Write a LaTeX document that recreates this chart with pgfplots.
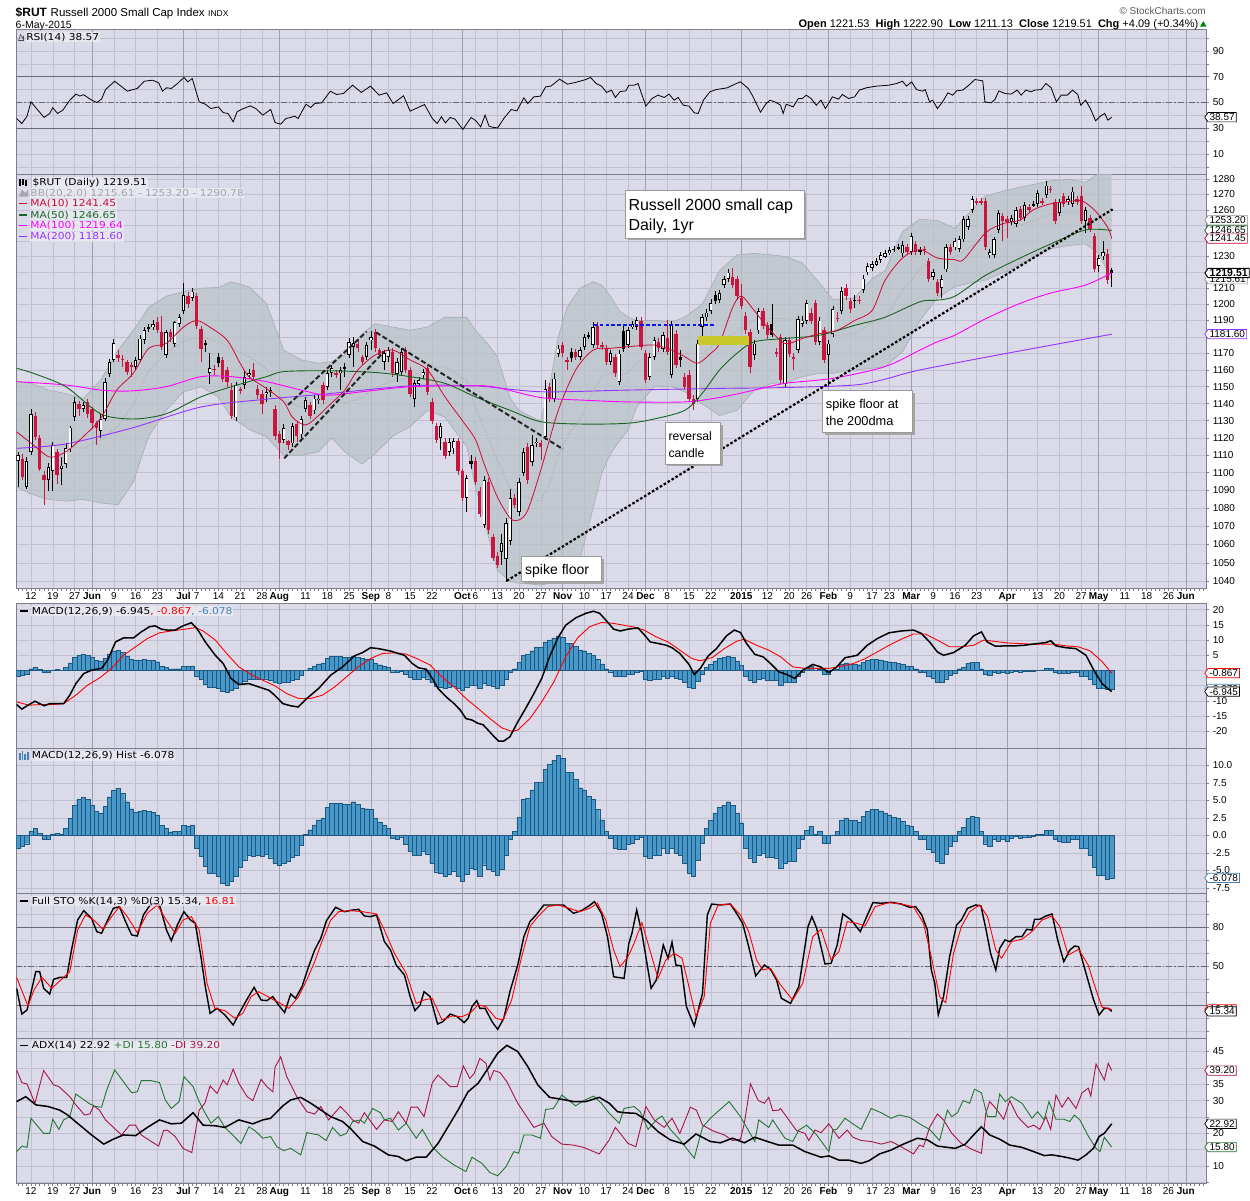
\documentclass[border=0pt]{standalone}
\usepackage{fontspec}
\setmainfont{Liberation Sans}
\newfontfamily\vfont[FakeStretch=1.12]{DejaVu Sans}
\usepackage{pgfplots}
\usepackage{pgfplotstable}
\pgfplotsset{compat=1.18}
\usetikzlibrary{shapes.symbols}

\definecolor{bgc}{RGB}{218,218,232}
\definecolor{gridc}{RGB}{192,192,208}
\definecolor{monthc}{RGB}{158,158,176}
\definecolor{framec}{RGB}{125,125,140}
\definecolor{candred}{RGB}{200,22,62}
\definecolor{ma10c}{RGB}{205,10,55}
\definecolor{ma50c}{RGB}{25,100,35}
\definecolor{ma100c}{RGB}{255,0,255}
\definecolor{ma200c}{RGB}{150,50,255}
\definecolor{bbfill}{RGB}{186,194,198}
\definecolor{bbline}{RGB}{165,172,178}
\definecolor{histc}{RGB}{72,152,202}
\definecolor{histd}{RGB}{28,88,128}
\definecolor{refc}{RGB}{105,105,118}
\definecolor{dipc}{RGB}{34,118,50}
\definecolor{dimc}{RGB}{168,20,70}
\definecolor{steelc}{RGB}{70,130,180}
\definecolor{olivec}{RGB}{200,200,45}
\definecolor{bbtext}{RGB}{165,165,175}
\definecolor{trendblue}{RGB}{10,20,245}

% ---------------- candles: i open high low close ----------------
\pgfplotstableread{
i o h l c
1 1107 1112 1092 1110
3 1092 1109 1091 1107
4 1112 1137 1110 1134
8 1096 1106 1090 1103
9 1101 1118 1090 1116
11 1102 1109 1093 1104
12 1105 1117 1103 1114
13 1114 1127 1112 1126
14 1132 1144 1130 1141
16 1137 1141 1135 1139
20 1124 1134 1120 1131
21 1131 1155 1130 1153
22 1158 1167 1156 1165
23 1166 1179 1165 1176
28 1162 1168 1160 1166
29 1166 1181 1165 1179
30 1178 1186 1176 1184
32 1186 1190 1184 1188
35 1169 1184 1167 1183
37 1176 1190 1174 1189
38 1188 1194 1186 1192
39 1196 1213 1194 1206
41 1204 1210 1202 1208
45 1158 1170 1152 1161
51 1132 1153 1130 1151
53 1151 1160 1149 1156
54 1157 1161 1155 1158
58 1146 1150 1141 1147
59 1147 1150 1144 1148
62 1119 1128 1117 1126
64 1117 1129 1115 1127
66 1122 1133 1120 1131
67 1137 1144 1135 1142
69 1136 1145 1134 1143
70 1142 1146 1140 1143
72 1150 1160 1148 1158
73 1158 1163 1156 1161
75 1158 1162 1148 1160
77 1169 1179 1167 1177
78 1174 1180 1162 1176
81 1168 1177 1166 1175
82 1178 1184 1172 1180
85 1165 1172 1160 1170
86 1168 1174 1165 1172
88 1158 1167 1153 1165
89 1159 1173 1157 1171
92 1143 1154 1138 1152
93 1152 1156 1150 1154
94 1157 1161 1155 1159
98 1120 1129 1113 1127
100 1112 1120 1110 1118
101 1114 1120 1111 1118
104 1086 1099 1078 1097
108 1071 1098 1069 1096
112 1056 1066 1049 1061
113 1052 1075 1040 1072
114 1062 1091 1060 1086
116 1078 1097 1076 1095
117 1100 1114 1098 1112
119 1106 1122 1104 1116
120 1117 1120 1115 1118
122 1121 1154 1119 1149
124 1143 1158 1141 1155
125 1170 1175 1168 1173
130 1168 1174 1166 1172
131 1174 1182 1172 1180
132 1180 1183 1179 1181
133 1175 1189 1173 1186
137 1165 1172 1163 1170
139 1153 1172 1151 1170
141 1175 1186 1173 1184
142 1186 1190 1185 1188
143 1186 1192 1184 1190
146 1156 1170 1154 1168
147 1168 1180 1166 1178
149 1173 1183 1171 1181
151 1157 1190 1155 1188
157 1143 1178 1141 1176
158 1186 1194 1178 1192
159 1192 1197 1190 1195
160 1196 1203 1194 1201
162 1203 1209 1201 1207
163 1212 1218 1210 1216
164 1216 1222 1214 1220
170 1169 1178 1166 1176
171 1184 1198 1182 1196
177 1152 1180 1150 1178
180 1172 1193 1170 1191
181 1188 1193 1186 1190
182 1190 1203 1188 1201
185 1177 1192 1175 1190
187 1169 1178 1150 1176
188 1182 1199 1180 1197
190 1196 1211 1194 1208
193 1202 1206 1198 1203
195 1209 1218 1207 1216
196 1220 1226 1218 1224
197 1223 1227 1221 1225
198 1225 1229 1224 1227
199 1228 1233 1226 1231
200 1230 1234 1229 1232
201 1232 1236 1231 1234
202 1234 1237 1233 1235
203 1235 1238 1234 1236
204 1232 1240 1230 1237
206 1233 1245 1231 1243
208 1233 1236 1231 1234
211 1217 1222 1215 1220
213 1210 1218 1204 1216
214 1222 1238 1220 1236
216 1236 1242 1234 1240
217 1235 1243 1233 1241
218 1241 1256 1239 1254
219 1249 1256 1247 1254
220 1260 1269 1258 1267
224 1231 1235 1229 1233
225 1231 1243 1229 1241
226 1247 1260 1245 1258
229 1252 1257 1250 1255
230 1251 1262 1249 1260
232 1255 1265 1253 1263
234 1263 1266 1262 1264
235 1264 1273 1262 1271
237 1270 1279 1268 1276
240 1258 1267 1256 1265
242 1265 1269 1263 1267
243 1264 1275 1262 1272
246 1253 1262 1245 1260
249 1224 1231 1220 1229
250 1230 1240 1228 1233
}\upc

\pgfplotstableread{
i o h l c
31 1186 1188 1183 1185
44 1176 1178 1171 1175
47 1168 1170 1162 1164
76 1162 1164 1156 1161
105 1107 1110 1102 1105
128 1171 1173 1165 1167
140 1184 1188 1171 1173
153 1168 1172 1162 1166
161 1206 1208 1200 1202
174 1188 1200 1180 1181
252 1221.53 1222.90 1211.13 1219.51
}\blkc

\pgfplotstableread{
i o h l c
2 1108 1111 1096 1098
5 1133 1135 1119 1121
6 1120 1122 1101 1102
7 1099 1101 1082 1096
10 1112 1114 1094 1099
15 1140 1142 1133 1137
17 1141 1143 1132 1134
18 1137 1138 1125 1129
19 1129 1130 1116 1126
24 1169 1172 1165 1167
25 1167 1169 1162 1166
26 1165 1166 1157 1159
27 1163 1165 1156 1162
33 1189 1192 1182 1184
34 1183 1193 1172 1174
36 1183 1185 1177 1180
40 1205 1208 1198 1200
42 1205 1207 1185 1187
43 1185 1187 1165 1173
46 1161 1163 1157 1160
48 1166 1168 1153 1155
49 1160 1162 1150 1153
50 1148 1152 1131 1133
52 1149 1150 1146 1148
55 1160 1164 1154 1156
56 1149 1151 1143 1145
57 1146 1148 1134 1140
60 1137 1139 1119 1121
61 1122 1124 1108 1117
63 1118 1119 1113 1116
65 1128 1130 1118 1121
68 1139 1141 1131 1133
71 1151 1153 1140 1142
74 1158 1160 1155 1157
79 1176 1178 1171 1173
80 1168 1169 1163 1165
83 1183 1185 1171 1173
84 1172 1173 1167 1169
87 1171 1173 1156 1158
90 1172 1174 1158 1160
91 1160 1162 1144 1146
95 1161 1163 1145 1147
96 1141 1143 1128 1130
97 1127 1129 1117 1119
99 1118 1120 1108 1110
102 1118 1120 1099 1101
103 1101 1102 1084 1086
106 1107 1109 1093 1095
107 1090 1092 1075 1077
109 1095 1097 1066 1068
110 1064 1066 1051 1053
111 1054 1056 1047 1049
115 1086 1088 1080 1082
118 1115 1117 1094 1096
121 1117 1119 1107 1115
123 1150 1152 1141 1143
126 1175 1177 1168 1170
127 1166 1168 1160 1165
129 1171 1173 1166 1168
134 1187 1189 1173 1175
135 1175 1177 1172 1174
136 1173 1175 1163 1165
138 1168 1170 1156 1158
144 1190 1192 1172 1174
145 1170 1172 1152 1154
148 1177 1179 1171 1173
150 1179 1190 1169 1171
152 1182 1184 1161 1163
154 1156 1158 1148 1150
155 1157 1160 1141 1143
156 1143 1145 1136 1140
165 1217 1223 1210 1212
166 1216 1218 1203 1205
167 1204 1213 1197 1199
168 1193 1195 1182 1184
169 1183 1185 1158 1162
172 1196 1198 1185 1187
173 1187 1189 1179 1181
175 1171 1173 1168 1170
176 1180 1182 1152 1154
178 1178 1180 1168 1170
179 1168 1170 1160 1167
183 1195 1198 1188 1190
184 1201 1203 1175 1177
186 1184 1186 1164 1166
189 1192 1195 1189 1191
191 1210 1213 1203 1205
192 1202 1204 1195 1197
194 1203 1205 1200 1202
205 1236 1238 1231 1233
207 1238 1240 1231 1233
209 1235 1237 1231 1234
210 1227 1229 1214 1216
212 1214 1216 1205 1207
215 1236 1238 1231 1233
221 1266 1268 1263 1265
222 1266 1268 1263 1265
223 1266 1268 1234 1236
227 1256 1258 1240 1253
228 1254 1256 1242 1252
231 1261 1263 1253 1255
233 1262 1264 1258 1260
236 1266 1268 1263 1265
238 1274 1276 1271 1273
239 1265 1267 1251 1253
241 1269 1271 1262 1264
244 1267 1269 1263 1265
245 1269 1276 1251 1253
247 1255 1257 1246 1248
248 1243 1245 1220 1222
251 1232 1235 1213 1215.5
}\dnc

% ---------------- Bollinger bands: i upper lower ----------------
\pgfplotstableread{
i u l
0.7 1153 1092
4 1152 1088
8 1148 1085
12 1146 1084
16 1143 1085
20 1154 1083
24 1172 1082
27.5 1184 1095
31 1198 1121
35 1205 1136
39 1208 1147
43 1210 1150
47 1210.5 1144
50 1214 1132
54 1211 1125
58 1200.6 1120.7
62 1172 1110
66 1166 1110
70 1164 1112
73 1165 1120
76 1169 1112
80 1182 1105
83 1188 1111
87 1186 1121
91 1184 1126.5
95 1186 1136
99 1192 1132
104 1192 1115
106 1184 1092
109 1175 1064
111 1168 1046
114 1143 1040
116 1136 1039
119 1132 1038.5
121 1130 1038
123 1150 1039
125 1180 1040
127 1198 1043
130 1210 1052
133 1214 1080
135 1212 1100
137 1205 1111
139 1196 1118
141 1192 1124.6
143 1190 1138
147 1190 1150
151 1189 1150
154 1192 1147
158 1200 1140
162 1221 1133
166 1231 1136
170 1232 1148
174 1231 1152
177 1230 1152
181 1226 1156
185 1213 1158
188 1203 1158
193 1204 1160
197 1216 1161
200 1221 1162
204 1246 1171
208 1254 1190
212 1253 1204
216 1248 1211
219 1257 1213
223 1269 1215
228 1273 1221
233 1276 1228
238 1279 1235
242 1280 1237
246 1278 1238
249 1284 1232
252 1290.78 1215.61
}\bbdata

% same band as one closed outline: upper edge forward, lower edge backward
\pgfplotstableread[row sep=\\]{i v\\ 0.7 1153\\ 4 1152\\ 8 1148\\ 12 1146\\ 16 1143\\ 20 1154\\ 24 1172\\ 27.5 1184\\ 31 1198\\ 35 1205\\ 39 1208\\ 43 1210\\ 47 1210.5\\ 50 1214\\ 54 1211\\ 58 1200.6\\ 62 1172\\ 66 1166\\ 70 1164\\ 73 1165\\ 76 1169\\ 80 1182\\ 83 1188\\ 87 1186\\ 91 1184\\ 95 1186\\ 99 1192\\ 104 1192\\ 106 1184\\ 109 1175\\ 111 1168\\ 114 1143\\ 116 1136\\ 119 1132\\ 121 1130\\ 123 1150\\ 125 1180\\ 127 1198\\ 130 1210\\ 133 1214\\ 135 1212\\ 137 1205\\ 139 1196\\ 141 1192\\ 143 1190\\ 147 1190\\ 151 1189\\ 154 1192\\ 158 1200\\ 162 1221\\ 166 1231\\ 170 1232\\ 174 1231\\ 177 1230\\ 181 1226\\ 185 1213\\ 188 1203\\ 193 1204\\ 197 1216\\ 200 1221\\ 204 1246\\ 208 1254\\ 212 1253\\ 216 1248\\ 219 1257\\ 223 1269\\ 228 1273\\ 233 1276\\ 238 1279\\ 242 1280\\ 246 1278\\ 249 1284\\ 252 1290.78\\ 252 1215.61\\ 249 1232\\ 246 1238\\ 242 1237\\ 238 1235\\ 233 1228\\ 228 1221\\ 223 1215\\ 219 1213\\ 216 1211\\ 212 1204\\ 208 1190\\ 204 1171\\ 200 1162\\ 197 1161\\ 193 1160\\ 188 1158\\ 185 1158\\ 181 1156\\ 177 1152\\ 174 1152\\ 170 1148\\ 166 1136\\ 162 1133\\ 158 1140\\ 154 1147\\ 151 1150\\ 147 1150\\ 143 1138\\ 141 1124.6\\ 139 1118\\ 137 1111\\ 135 1100\\ 133 1080\\ 130 1052\\ 127 1043\\ 125 1040\\ 123 1039\\ 121 1038\\ 119 1038.5\\ 116 1039\\ 114 1040\\ 111 1046\\ 109 1064\\ 106 1092\\ 104 1115\\ 99 1132\\ 95 1136\\ 91 1126.5\\ 87 1121\\ 83 1111\\ 80 1105\\ 76 1112\\ 73 1120\\ 70 1112\\ 66 1110\\ 62 1110\\ 58 1120.7\\ 54 1125\\ 50 1132\\ 47 1144\\ 43 1150\\ 39 1147\\ 35 1136\\ 31 1121\\ 27.5 1095\\ 24 1082\\ 20 1083\\ 16 1085\\ 12 1084\\ 8 1085\\ 4 1088\\ 0.7 1092\\}\bbpoly

% ---------------- moving averages: i value ----------------
\pgfplotstableread[row sep=\\]{i v\\ 0.7 1114\\ 12 1116.5\\ 27 1125.6\\ 43 1138\\ 58 1142.6\\ 72 1145.8\\ 91 1150.5\\ 106 1150.5\\ 121 1147\\ 141 1148\\ 162 1149\\ 177 1149.5\\ 193 1151\\ 200 1154.5\\ 208 1160\\ 230 1171\\ 252 1181.6\\}\matwo

\pgfplotstableread[row sep=\\]{i v\\ 0.7 1153\\ 12 1151\\ 20 1148\\ 27 1147.5\\ 35 1150\\ 43 1156\\ 50 1156\\ 58 1153\\ 66 1148\\ 72 1145\\ 80 1147\\ 91 1150\\ 104 1150.5\\ 110 1150\\ 121 1143.6\\ 131 1142\\ 141 1141\\ 154 1141\\ 162 1143.6\\ 170 1148\\ 177 1152\\ 188 1155\\ 200 1162\\ 208 1172\\ 212 1177\\ 216 1181\\ 223 1191\\ 231 1200.6\\ 238 1207\\ 246 1212\\ 252 1219.64\\}\maone

\pgfplotstableread[row sep=\\]{i v\\ 0.7 1161\\ 4.5 1158\\ 12 1150\\ 20 1134\\ 27.5 1131\\ 35 1134\\ 43 1144\\ 50 1150\\ 58 1156\\ 62 1159\\ 72 1159.5\\ 83 1158.5\\ 91 1156\\ 99 1152\\ 106 1144\\ 114 1136\\ 121 1129.4\\ 131 1128\\ 141 1128.5\\ 147 1131\\ 154 1136\\ 158 1146\\ 162 1160\\ 166 1170\\ 170 1177\\ 177 1179\\ 185 1181\\ 193 1187\\ 200 1192\\ 208 1201.6\\ 212 1202.6\\ 216 1205\\ 223 1218\\ 231 1229\\ 238 1238\\ 246 1247\\ 252 1246.65\\}\mafifty

\pgfplotstableread[row sep=\\]{i v\\ 0.7 1123.5\\ 4.5 1116\\ 8.3 1109\\ 12 1112\\ 16 1120.7\\ 20 1131.4\\ 23.7 1148\\ 27.5 1158\\ 31 1173\\ 35 1176\\ 39 1186\\ 42 1190\\ 45 1186\\ 49 1178\\ 52 1164\\ 54 1156\\ 58 1149\\ 62 1141\\ 64 1132\\ 67 1127.5\\ 70 1133\\ 72 1138\\ 76 1148\\ 79 1160\\ 83 1169\\ 87 1172\\ 91 1166\\ 95 1160\\ 99 1144\\ 103 1130\\ 106 1119\\ 108 1105\\ 111 1086.5\\ 114 1074.4\\ 116 1073.5\\ 118 1079\\ 121 1101.6\\ 125 1136\\ 129 1160\\ 133 1172\\ 137 1173\\ 141 1174\\ 147 1175\\ 151 1172\\ 154 1168\\ 157 1164\\ 160 1170\\ 162 1176\\ 165 1198\\ 167 1205\\ 170 1196\\ 173 1186\\ 177 1176\\ 181 1179\\ 185 1182\\ 189 1184\\ 193 1190\\ 197 1196\\ 200 1215\\ 204 1229\\ 208 1234.4\\ 212 1229\\ 216 1228\\ 218 1228\\ 223 1245\\ 227 1251\\ 231 1253.4\\ 234 1260\\ 238 1264\\ 242 1265.3\\ 245 1266\\ 248 1260\\ 251 1249\\ 252 1241.45\\}\maten

% ---------------- MACD histogram ----------------
\pgfplotstableread{
i v
1 -1.9
2 -1.6
3 -1.2
4 0.6
5 1.0
6 0.3
7 -0.5
8 -0.5
9 0.2
10 0.3
11 0.2
12 1.0
13 2.5
14 4.3
15 5.1
16 5.4
17 5.1
18 4.3
19 3.4
20 3.2
21 4.1
22 5.5
23 6.4
24 6.7
25 6.0
26 4.8
27 3.8
28 3.3
29 3.5
30 3.6
31 3.4
32 3.3
33 2.9
34 1.4
35 1.0
36 0.5
37 0.6
38 0.6
39 1.4
40 1.3
41 1.5
42 -1.8
43 -3.0
44 -4.4
45 -5.4
46 -5.4
47 -5.9
48 -6.8
49 -7.1
50 -6.6
51 -5.9
52 -4.6
53 -3.5
54 -2.9
55 -3.0
56 -2.9
57 -3.0
58 -2.7
59 -3.2
60 -4.0
61 -4.3
62 -4.0
63 -3.7
64 -3.1
65 -2.8
66 -1.4
67 0.1
68 0.8
69 1.5
70 2.2
71 2.5
72 4.0
73 4.6
74 4.6
75 4.6
76 4.4
77 4.4
78 4.8
79 4.4
80 3.9
81 3.8
82 3.7
83 2.5
84 1.9
85 1.4
86 1.0
87 -0.4
88 -0.5
89 -0.2
90 -1.3
91 -2.3
92 -2.9
93 -2.9
94 -2.3
95 -2.7
96 -4.0
97 -5.2
98 -5.4
99 -5.9
100 -5.6
101 -5.1
102 -5.9
103 -6.6
104 -5.5
105 -4.7
106 -4.9
107 -5.9
108 -4.2
109 -4.8
110 -5.1
111 -5.7
112 -4.8
113 -2.9
114 -0.6
115 0.6
116 2.6
117 5.1
118 5.3
119 6.5
120 7.6
121 7.6
122 9.4
123 10.1
124 10.7
125 11.4
126 11.0
127 9.0
128 9.0
129 8.0
130 6.8
131 6.5
132 5.6
133 5.1
134 3.7
135 2.2
136 0.6
137 -0.4
138 -1.9
139 -2.0
140 -2.0
141 -1.3
142 -1.1
143 -0.5
144 -0.3
145 -3.0
146 -3.2
147 -2.8
148 -2.8
149 -1.9
150 -2.5
151 -1.8
152 -2.5
153 -2.9
154 -4.0
155 -5.4
156 -5.9
157 -3.6
158 -1.1
159 1.0
160 2.1
161 3.2
162 4.0
163 4.3
164 4.8
165 4.3
166 3.2
167 1.8
168 -1.8
169 -3.2
170 -3.8
171 -2.8
172 -2.6
173 -3.1
174 -3.1
175 -3.2
176 -4.7
177 -4.0
178 -3.7
179 -3.7
180 -1.8
181 -0.6
182 0.7
183 1.3
184 0.1
185 0.6
186 -1.1
187 -1.1
188 0.05
189 0.6
190 2.1
191 2.5
192 2.1
193 2.1
194 1.9
195 2.7
196 3.4
197 3.7
198 3.7
199 3.5
200 3.2
201 2.9
202 2.6
203 2.4
204 2.0
205 1.5
206 1.3
207 0.6
208 -0.6
209 -0.6
210 -2.0
211 -2.4
212 -3.7
213 -4.0
214 -2.7
215 -1.6
216 -0.9
217 0.6
218 1.1
219 2.4
220 2.7
221 2.6
222 0.6
223 -1.2
224 -1.6
225 -0.5
226 -0.8
227 -0.6
228 -0.9
229 -0.4
230 -0.1
231 -0.4
232 -0.2
233 -0.3
234 -0.1
235 0.1
236 0.2
237 0.7
238 0.7
239 -0.5
240 -0.9
241 -1.0
242 -1.0
243 -0.6
244 -0.6
245 -1.8
246 -1.9
247 -2.9
248 -4.6
249 -5.7
250 -5.7
251 -6.3
252 -6.078
}\histdata

% candles are drawn on a linear axis of ln(price) (= a log price scale)
\newcommand\cwick[2]{%
 \addplot[draw=none, mark=none, forget plot, error bars/.cd, y dir=both, y explicit, error mark=none,
   error bar style={draw=#2, line width=0.6pt}]
   table[x=i, y expr={(ln(\thisrow{h})+ln(\thisrow{l}))/2}, y error expr={(ln(\thisrow{h})-ln(\thisrow{l}))/2}] {#1};}
\newcommand\cbody[5]{%
 \addplot[draw=none, mark=none, forget plot, error bars/.cd, y dir=both, y explicit, error mark=none,
   error bar style={draw=#2, line width=#3}]
   table[x=i, y expr={(ln(\thisrow{o})+ln(\thisrow{c}))/2}, y error expr={max(abs(ln(\thisrow{c})-ln(\thisrow{o}))/2-#4,#5)}] {#1};}

\pgfplotsset{
  panel/.style={
    scale only axis, width=1190.4pt, anchor=north west,
    xmin=0.63, xmax=273.8,
    axis background/.style={fill=bgc},
    axis line style={draw=framec, line width=0.9pt},
    xtick={4,9,14,18,23,28,33,39,42,47,52,57,61,67,72,77,82,86,91,96,103,106,111,116,121,126,131,136,141,145,150,155,160,167,173,178,182,187,192,197,201,206,211,216,221,228,235,240,245,249,255,260,265,269},
    xticklabels={},
    extra x ticks={18,39,61,82,103,126,145,167,187,206,228,249,269},
    extra x tick labels={},
    extra x tick style={major grid style={draw=monthc, line width=0.6pt}},
    grid=major, major grid style={draw=gridc, line width=0.45pt},
    xtick style={draw=none},
    ytick pos=right, yticklabel pos=right,
    tick align=outside, major tick length=2.5pt,
    ytick style={draw=framec, line width=0.5pt},
    ticklabel style={font=\fontsize{10}{11}\selectfont},
  },
  datelabels/.style={xticklabels={12,19,27,\textbf{Jun},9,16,23,\textbf{Jul},7,14,21,28,\textbf{Aug},11,18,25,\textbf{Sep},8,15,22,\textbf{Oct},6,13,20,27,\textbf{Nov},10,17,24,\textbf{Dec},8,15,22,\textbf{2015},12,20,26,\textbf{Feb},9,17,23,\textbf{Mar},9,16,23,\textbf{Apr},13,20,27,\textbf{May},11,18,26,\textbf{Jun}},
    xticklabel style={font=\fontsize{10}{11}\selectfont, inner sep=1.5pt}},
}
\tikzset{
  vbox/.style={signal, signal to=west, signal pointer angle=110, fill=white, line width=0.7pt,
    inner xsep=1.6pt, inner ysep=0.9pt, anchor=west, font=\fontsize{10}{10}\selectfont,
    text height=7.2pt, text depth=0.3pt, xshift=-2.4pt},
  leg/.style={anchor=base west, inner sep=0.6pt, font=\vfont\fontsize{9.5}{10}\selectfont,
    fill=bgc!45!white, fill opacity=0.7, text opacity=1},
  note/.style={anchor=base west, inner sep=0pt},
}

\begin{document}
\begin{tikzpicture}[x=1pt,y=1pt]
\fill[white] (0,0) rectangle (1250,-1200);
\path[use as bounding box] (0,0) rectangle (1250,-1200);

% ================= RSI =================
\begin{axis}[panel, at={(16.3pt,-29.3pt)}, height=145.4pt,
  ymin=-5.97, ymax=106.74, ytick={0,10,...,100}, yticklabels={,10,,30,,50,,70,,90,}]
\addplot[refc, line width=0.9pt] coordinates {(0.63,70) (273.8,70)};
\addplot[refc, line width=0.9pt] coordinates {(0.63,30) (273.8,30)};
\addplot[refc, line width=0.7pt, dash pattern=on 6pt off 2pt on 1.5pt off 2pt] coordinates {(0.63,50) (273.8,50)};
\addplot[black, line width=0.8pt] coordinates {
(0.7,37.6) (1.9,33.7) (3.1,39.4) (4.0,50.5) (5.6,44) (7.0,38.4) (8.3,41.5) (9.0,46) (10.1,41.5) (11.3,44)
(12.9,51.8) (14.3,56.5) (15.2,55) (16.1,56) (17.7,52.3) (19.1,50) (20.2,52.6) (21.1,60) (23.2,66.5) (26.1,58.8)
(28.4,60.9) (30.0,66.5) (31.9,67.3) (33.3,65.2) (34.2,58.8) (35.1,61.4) (36.2,60.9) (37.6,64.7) (39.1,69.4) (40.0,66)
(41.0,68.6) (42.6,50.5) (44.0,48.7) (45.3,45.3) (47.0,46.6) (48.1,42.2) (49.2,41.5) (50.4,35) (51.3,42.8) (52.4,44.8)
(54.3,47.4) (55.6,45.3) (57.2,40.2) (59.0,44.6) (60.0,34.5) (61.3,33.2) (62.5,37.6) (63.6,38.4) (64.5,39.4) (65.3,37.6)
(67.1,48.7) (68.2,46.1) (69.1,49.2) (70.7,49.7) (72.7,58.8) (74.1,56.2) (75.7,57) (77.8,63.4) (79.8,57.8) (81.9,62.7)
(83.9,55.7) (85.6,57.5) (87.1,49.2) (89.5,55.2) (91.0,43.3) (94.3,48.4) (96.1,37.6) (97.2,33.7) (98.2,38.9) (99.1,34.2)
(100.2,38.4) (101.3,37.1) (103.1,29.1) (105.0,38.4) (106.1,35.8) (107.2,31.1) (108.2,40.2) (109.1,31.7) (110.2,30.6) (111.1,30.4)
(112.5,37.6) (114.2,44.6) (115.5,43.5) (117.1,53.6) (118.0,49.2) (119.4,54.4) (120.9,54.9) (122.1,62.1) (123.3,62.7) (125.3,68.1)
(127.1,64.2) (128.9,65.5) (131.3,67.8) (132.4,69.4) (133.7,64.7) (134.9,62.7) (136.1,57.8) (137.2,59.6) (138.1,53.9) (139.2,58.5)
(140.5,59) (141.2,63.4) (142.4,63.4) (143.3,64.7) (145.1,47.2) (146.5,53.1) (147.9,55.7) (149.3,53.9) (150.4,56.5) (151.6,51.8)
(152.5,53.9) (153.7,47.9) (155.0,47.2) (156.2,42) (157.1,41.5) (158.3,51.8) (159.8,58.3) (161.2,60) (162.9,60.9) (163.8,61.4)
(165.4,64) (166.8,66) (168.6,60.9) (169.5,55.7) (171.4,42.5) (172.7,49.2) (173.6,51.8) (175.0,50) (176.0,47.9) (176.6,41.5)
(177.3,48.7) (178.9,46.6) (180.1,53.1) (181.0,53.1) (181.9,55.7) (183.0,53.1) (184.2,47.9) (185.3,51.8) (186.3,45.3) (187.9,54.4)
(189.3,52.6) (190.2,56.2) (191.6,53.1) (193.0,54.4) (194.1,59.6) (195.7,61.4) (198.0,62.7) (200.8,63.4) (202.6,64.7) (204.0,66.5)
(204.9,62.7) (206.1,66) (207.2,60) (208.6,58.8) (209.2,60) (210.2,50.5) (210.9,51.8) (212.0,45.3) (213.2,50.5) (214.4,57.5)
(215.5,55.7) (216.4,59) (217.8,59.6) (219.2,63.4) (220.6,67.8) (222.4,66.8) (222.9,50.5) (224.3,49.7) (225.2,52.3) (226.1,59)
(227.5,57) (228.9,56.5) (230.3,59.6) (231.2,55.7) (232.3,59.6) (233.5,58.3) (234.4,59.6) (235.8,60) (236.9,64.7) (238.1,61.4)
(239.3,50.5) (240.4,55.7) (241.8,55.7) (243.0,59.6) (244.2,56.2) (244.9,47.9) (246.0,51.8) (247.1,45.3) (248.3,35.8) (249.4,39.4)
(250.4,41.5) (251.1,36.3) (252,38.57)};
\coordinate (vrsi) at (axis cs:273.8,38.57);
\end{axis}

% ================= PRICE (y = ln of price, labelled in price) =================
\begin{axis}[panel, datelabels, at={(16.3pt,-174.7pt)}, height=413.6pt,
  ymin=6.943361, ymax=7.156991,
  ytick={6.946976,6.956545,6.966024,6.975414,6.984716,6.993933,7.003065,7.012115,7.021084,7.029973,7.038784,7.047517,7.056175,7.064759,7.073270,7.081709,7.090077,7.098376,7.106606,7.114769,7.122867,7.130899,7.138867,7.146772,7.154615},
  yticklabels={1040,1050,1060,1070,1080,1090,1100,1110,1120,1130,1140,1150,1160,1170,,1190,1200,1210,,1230,,,1260,1270,1280}]
% Bollinger band
\addplot[fill=bbfill, fill opacity=0.72, draw=none] table[x=i, y expr={ln(\thisrow{v})}]{\bbpoly} -- cycle;
\addplot[bbline, line width=0.6pt] table[x=i,y expr={ln(\thisrow{u})}]{\bbdata};
\addplot[bbline, line width=0.6pt] table[x=i,y expr={ln(\thisrow{l})}]{\bbdata};
\addplot[black!35, line width=0.6pt, dash pattern=on 1.2pt off 1.6pt] table[x=i, y expr={ln((\thisrow{u}+\thisrow{l})/2)}]{\bbdata};
% candles
\cwick{\upc}{black}
\cbody{\upc}{black}{3.3pt}{0}{0.00026}
\cbody{\upc}{white}{1.7pt}{0.00042}{0}
\cwick{\dnc}{candred}
\cbody{\dnc}{candred}{3.3pt}{0}{0.00026}
\cwick{\blkc}{black}
\cbody{\blkc}{black}{3.3pt}{0}{0.00026}
% moving averages
\addplot[ma200c, line width=0.9pt, smooth] table[x=i, y expr={ln(\thisrow{v})}]{\matwo};
\addplot[ma100c, line width=0.9pt, smooth] table[x=i, y expr={ln(\thisrow{v})}]{\maone};
\addplot[ma50c, line width=0.9pt, smooth] table[x=i, y expr={ln(\thisrow{v})}]{\mafifty};
\addplot[ma10c, line width=0.8pt, smooth] table[x=i, y expr={ln(\thisrow{v})}]{\maten};
% annotations (trend lines, in ln(price))
\addplot[fill=olivec, draw=none] coordinates {(157.0,7.069194) (168.8,7.069194) (168.8,7.073693) (157.0,7.073693)} -- cycle;
\addplot[trendblue, line width=2pt, dash pattern=on 3.6pt off 2.2pt] coordinates {(133.2,7.079184) (161.1,7.079184)};
\addplot[black!85, line width=2pt, dash pattern=on 5pt off 2.6pt] coordinates {(62.1,7.010494) (85.0,7.065613)};
\addplot[black!85, line width=2pt, dash pattern=on 5pt off 2.6pt] coordinates {(63.0,7.038081) (81.0,7.075893)};
\addplot[black!85, line width=2pt, dash pattern=on 5pt off 2.6pt] coordinates {(83.2,7.075555) (126.1,7.015175)};
\addplot[black, line width=2.2pt, dash pattern=on 2.6pt off 2pt] coordinates {(113.2,6.947264) (252.2,7.139105)};
\coordinate (vbbm) at (axis cs:273.8,7.133456);
\coordinate (vma50) at (axis cs:273.8,7.128215);
\coordinate (vma10) at (axis cs:273.8,7.124034);
\coordinate (vbbl) at (axis cs:273.8,7.103000);
\coordinate (vclose) at (axis cs:273.8,7.106204);
\coordinate (vma200) at (axis cs:273.8,7.074624);
\end{axis}

% ================= MACD =================
\begin{axis}[panel, at={(16.3pt,-603pt)}, height=145.7pt,
  ymin=-25.72, ymax=22.2, ytick={-20,-15,...,20}, yticklabels={-20,-15,-10,,,5,10,15,20}]
\addplot[ybar, bar width=1, bar shift=0pt, fill=histc, draw=histd, line width=0.35pt] table[x=i,y=v]{\histdata};
\addplot[red, line width=0.9pt] coordinates {
(0.7,-10.3) (3.5,-11.4) (6.2,-11.2) (8.8,-11.2) (11.5,-10.9) (14.3,-8.1) (17.0,-4.8) (19.8,-2.4) (22.5,0.7) (25.2,5.0)
(28.0,7.8) (30.7,10.5) (33.5,12.4) (36.2,13.0) (38.9,13.5) (41.7,14.1) (43.5,13.0) (46.3,10.0) (48.9,5.6) (51.7,1.2)
(54.5,-1.3) (57.2,-3.2) (59.9,-5.0) (62.7,-7.6) (65.4,-9.2) (68.2,-9.2) (70.9,-8.1) (73.7,-5.4) (76.4,-2.1) (79.1,1.2)
(81.9,3.9) (84.6,5.6) (87.4,5.8) (90.1,5.4) (92.9,3.7) (95.6,1.8) (98.3,-2.1) (101.1,-5.4) (103.8,-9.2) (106.6,-12.5)
(109.3,-15.8) (112.1,-18.9) (114.3,-20.0) (115.7,-19.6) (118.5,-15.8) (121.2,-10.3) (124.0,-3.7) (126.7,4.5) (129.4,10.7) (132.2,14.4)
(134.9,15.8) (137.7,15.5) (139.2,15.1) (142.0,14.4) (144.7,13.3) (147.4,11.1) (150.2,9.4) (152.9,6.7) (155.7,3.9) (157.6,3.2)
(160.4,4.3) (163.1,7.2) (165.9,9.6) (167.7,10.3) (170.5,8.3) (173.3,6.7) (176.0,4.5) (178.8,1.2) (181.6,0.7) (184.3,0.7)
(187.1,0.7) (189.9,1.4) (192.7,2.3) (195.4,3.9) (198.2,6.1) (200.9,8.3) (203.7,10.3) (206.5,12.0) (209.2,12.0) (212.0,10.0)
(214.8,7.8) (217.6,7.8) (220.3,8.3) (222.6,10.0) (225.1,9.6) (227.7,9.1) (230.4,8.9) (233.2,8.7) (236.0,8.7) (238.8,8.7)
(241.5,8.1) (244.3,7.8) (247.1,6.4) (249.8,2.9) (252,-0.867)};
\addplot[black, line width=1.5pt] coordinates {
(0.7,-11.2) (1.9,-12.7) (3.1,-11.6) (4.9,-10.1) (7.0,-11.6) (8.3,-10.9) (10.1,-10.9) (11.5,-10.9) (12.9,-8.1) (14.3,-4.3)
(16.1,-1.0) (17.9,0.1) (20.2,0.7) (21.6,3.4) (23.4,9.4) (25.2,10.7) (27.5,10.7) (29.3,12.7) (31.2,14.4) (32.5,14.7)
(33.9,13.6) (35.3,13.3) (37.1,13.3) (38.9,14.7) (40.8,15.7) (42.1,13.8) (44.0,9.4) (46.3,5.0) (48.1,2.3) (49.9,-2.6)
(51.7,-4.6) (54.0,-4.3) (56.3,-5.4) (58.6,-6.5) (59.9,-8.1) (61.8,-10.9) (63.6,-11.6) (65.3,-12.0) (67.3,-9.2) (70.0,-5.9)
(72.8,-1.5) (75.5,1.2) (78.2,4.8) (80.1,5.9) (81.9,7.5) (83.7,7.2) (86.5,6.4) (88.3,5.6) (89.7,5.0) (91.5,2.3)
(92.9,0.9) (94.7,0.4) (96.1,-2.6) (97.4,-5.9) (99.3,-8.7) (101.1,-10.9) (102.5,-13.0) (103.8,-15.8) (105.2,-16.3) (106.6,-17.4)
(107.7,-17.8) (108.9,-19.6) (110.3,-21.8) (111.3,-23.2) (112.5,-23.2) (113.9,-21.8) (115.7,-16.9) (117.5,-12.5) (119.4,-7.6) (121.2,-2.6)
(123.0,4.5) (124.9,10.7) (126.7,14.9) (129.0,17.3) (131.3,18.8) (133.1,19.5) (134.5,18.8) (135.9,16.6) (137.7,13.6) (139.2,13.0)
(141.0,13.6) (143.3,14.0) (144.7,11.8) (146.1,9.4) (147.9,8.9) (149.8,8.3) (151.1,7.5) (152.9,5.6) (155.0,2.0) (156.2,-1.3)
(157.6,0.7) (159.4,4.8) (161.3,7.2) (163.6,11.4) (165.4,13.3) (166.8,12.5) (168.2,8.9) (170.1,5.3) (172.0,4.5) (173.7,2.3)
(175.6,-0.4) (177.4,-1.3) (179.3,-2.6) (181.1,0.1) (183.4,2.0) (185.2,1.2) (187.1,-0.7) (188.9,1.2) (190.8,4.2) (193.6,5.0)
(195.9,8.3) (198.2,10.5) (200.9,12.4) (203.7,13.0) (206.5,13.3) (208.3,12.2) (210.2,9.4) (212.0,6.1) (213.4,5.0) (215.7,5.9)
(218.4,8.3) (220.3,11.4) (222.1,12.7) (223.4,9.4) (225.3,8.0) (227.7,8.1) (229.9,8.1) (231.8,8.3) (234.1,8.7) (236.9,9.2)
(238.0,9.8) (239.2,8.1) (241.5,7.5) (243.8,7.2) (246.1,5.0) (248.0,-0.2) (249.8,-4.3) (250.9,-5.7) (252,-6.945)};
\coordinate (vsig) at (axis cs:273.8,-0.867);
\coordinate (vh1) at (axis cs:273.8,-6.078);
\coordinate (vmacd) at (axis cs:273.8,-6.945);
\end{axis}

% ================= HISTOGRAM =================
\begin{axis}[panel, at={(16.3pt,-748.7pt)}, height=144.6pt,
  ymin=-8.29, ymax=12.37, ytick={-7.5,-5,-2.5,0,2.5,5,7.5,10},
  yticklabels={-7.5,-5.0,-2.5,0.0,2.5,5.0,7.5,10.0}]
\addplot[ybar, bar width=1, bar shift=0pt, fill=histc, draw=histd, line width=0.35pt] table[x=i,y=v]{\histdata};
\coordinate (vh2) at (axis cs:273.8,-6.078);
\end{axis}

% ================= STOCHASTICS =================
\begin{axis}[panel, at={(16.3pt,-893.3pt)}, height=145pt,
  ymin=-5.38, ymax=106.15, ytick={0,10,...,100}, yticklabels={,,,,,50,,,80,,}]
\addplot[refc, line width=0.9pt] coordinates {(0.63,80) (273.8,80)};
\addplot[refc, line width=0.9pt] coordinates {(0.63,20) (273.8,20)};
\addplot[refc, line width=0.7pt, dash pattern=on 6pt off 2pt on 1.5pt off 2pt] coordinates {(0.63,50) (273.8,50)};
\addplot[black, line width=1.4pt] coordinates {
(0.7,33.1) (1.9,13.3) (3.1,16.4) (5.1,45.9) (6.0,45.9) (6.9,33.1) (8.3,28.7) (9.2,40) (10.6,41.5) (12.2,41.5)
(13.3,62.6) (14.7,85.6) (16.1,92.8) (17.9,86.9) (19.1,76.7) (20.2,75.4) (21.6,85.6) (22.9,94.6) (24.3,95.9) (25.7,84.4)
(27.1,74.1) (28.4,73.3) (29.8,89.5) (31.6,98.5) (33.5,97.2) (35.1,77.9) (36.2,69.7) (37.6,81.8) (39.1,92) (40.6,85.6)
(41.7,83.1) (43,57.4) (44,34.4) (45.1,13.8) (46.7,17.7) (48.5,12.6) (50.4,4.9) (51.7,13.3) (53.7,25.4) (55.2,33.8)
(56.8,24.1) (58.1,23.6) (59.5,26.7) (60.8,20.3) (62.2,14.4) (63.6,28.7) (64.7,25.4) (66.2,34.4) (67.7,49.7) (69.1,62.6)
(70.5,71.5) (71.8,85.1) (73.9,95.4) (75.9,92) (77.8,93.3) (79.2,93.8) (80.5,88.7) (81.9,88.2) (83.3,89.5) (85.1,69)
(86.5,62.6) (87.8,51) (89.7,43.3) (91,26.7) (92.1,15.9) (93.3,20.3) (94.2,30.5) (95.6,26.7) (97.3,5.6) (98.5,7.4)
(100.2,13.3) (101.8,11.3) (103.4,6.7) (104.3,10) (105.2,19) (106.3,23.6) (107,17.7) (108.2,17.7) (109.8,7.4) (111.1,1.5)
(112.5,10) (113.9,30.5) (115.7,51) (117.1,72.8) (118.5,84.4) (119.9,89.5) (121.7,97.2) (123.9,97.2) (126.2,97.2) (128.5,90.8)
(130.3,92.8) (132,96.4) (133.3,99.7) (134.9,90.8) (136.3,72.8) (137.7,42) (138.6,41.5) (140.1,40.8) (141.2,67.7) (141.9,75.4)
(143,93.3) (144.2,75.4) (145.1,57.4) (146.3,33.1) (147.5,39.5) (149.1,66.4) (150.2,56.2) (151.1,68.5) (152,51) (153.2,50.3)
(154.4,19) (156.2,4.1) (158.1,29.2) (159.2,89.5) (160.2,97.9) (162.2,97.2) (164.5,97.9) (165.9,90.8) (167.3,83.1) (168.7,65.1)
(170.3,42.6) (172.3,51) (173.7,47.7) (175.1,39.5) (176.2,25.4) (178.3,21.5) (180.2,34.4) (182.3,80.5) (183.2,88.2) (184.3,79.2)
(186.2,51.8) (187.6,52.3) (189,66.4) (190.3,90.3) (192.2,85.6) (194.3,76.7) (195.6,86.9) (197.2,99) (199.1,98.5) (201.4,99.2)
(203.7,97.9) (205.6,95.4) (207,95.9) (208.4,89.5) (209.7,77.9) (210.6,47.2) (211.4,36.9) (212.2,12.6) (213.4,26.7) (214.8,57.4)
(216.4,81.8) (217.5,85.6) (218.9,94.6) (220.8,97.2) (222,96.4) (223.1,79.2) (224.2,60) (225.4,47.2) (226.3,63.8) (227.5,70.3)
(228.6,69) (230,72.8) (231.4,72.8) (232.5,78.5) (233.7,77.9) (234.3,86.2) (235.5,86.2) (236.9,88.7) (238.3,90.3) (239.6,70.3)
(241,53.6) (242.4,62.6) (243.5,65.6) (244.4,65.1) (246.1,44.6) (247.8,24.6) (249.1,12.6) (250.3,17.7) (251.2,17.7) (252,15.34)};
\addplot[red, line width=0.9pt] coordinates {
(0.7,41.5) (3.3,19.5) (4.7,31.8) (6.5,41.5) (8.8,33.1) (11,40) (12.9,45.9) (14.7,77.9) (16.5,89.5) (18.4,85.6)
(20.5,78.5) (22.5,88.2) (24.3,95.9) (26.1,88.2) (28.4,75.9) (30.7,90.8) (33,97.2) (34.8,86.9) (37.1,75.4) (38.9,85.6)
(40.8,88.2) (42.6,77.9) (44.4,36.9) (46.2,17.7) (48.5,15.9) (50.8,10) (52.6,13.8) (54.5,26.7) (56.3,30.5) (59,25.4)
(60.9,22.1) (63.2,17.7) (65.4,26.7) (67.3,39.5) (69.1,53.6) (70.9,70.3) (72.8,85.6) (74.6,92) (77.3,92.8) (80.1,92)
(83.3,90.3) (85.1,77.9) (87.4,60) (90.1,44.6) (92.4,21.5) (94.2,24.1) (96.1,25.4) (98.3,8.7) (100.6,11.8) (102.9,11.3)
(104.7,13.8) (106.6,20.3) (108.4,19) (110.7,10) (112.3,8.7) (114.3,24.1) (116.6,57.4) (118.5,80.5) (120.3,88.2) (122.6,95.9)
(124.9,97.2) (127.6,94.6) (129.9,92) (132.2,94.6) (134,98.5) (135.9,85.6) (137.7,62.6) (139.2,49.7) (141,57.4) (142.4,67.7)
(144.2,83.6) (146,62.6) (147.9,40.8) (149.7,54.9) (151.6,60) (153.4,56.2) (154.8,36.9) (156.6,11.3) (158.5,26.7) (159.9,83.1)
(161.7,97.2) (164.5,97.9) (166.8,89.5) (168.7,76.7) (170.5,54.9) (171.9,47.2) (173.7,48.5) (176,35.6) (178.8,24.1) (181.1,36.9)
(183.4,72.8) (185.3,78.5) (187.6,54.9) (189.4,61.3) (191.3,84.4) (193.5,83.1) (195.4,81) (197.7,95.9) (200.9,99) (203.7,97.9)
(206.5,95.9) (208.8,83.1) (210.6,57.4) (212.5,26.7) (213.9,22.1) (215.7,60) (217.5,80.5) (219.4,92) (221.7,97.2) (223.5,88.2)
(225.4,62.6) (226.7,56.2) (229,69) (231.4,70.8) (233.7,76.7) (236,85.6) (238.3,88.7) (240.1,80.5) (242,58.7) (244.4,63.1)
(246.6,51) (248.4,31.8) (249.8,18.5) (252,16.81)};
\coordinate (vd) at (axis cs:273.8,16.81);
\coordinate (vk) at (axis cs:273.8,15.34);
\end{axis}

% ================= ADX =================
\begin{axis}[panel, datelabels, at={(16.3pt,-1038.3pt)}, height=145pt,
  ymin=4.71, ymax=49.05, ytick={5,10,...,45}, yticklabels={,10,,20,,30,35,,45}]
\addplot[dimc, line width=0.9pt] coordinates {
(0.7,39.4) (1.9,35.5) (3.1,35.1) (4.9,29.2) (6.9,39.2) (9.2,34.8) (10.4,34.3) (12.9,31.2) (14.3,28.7) (16.3,25.6)
(17.5,25.9) (18.4,28.4) (19.7,27.1) (21.1,24.1) (23.4,21.2) (24.8,19.5) (26.6,22.5) (28,22.5) (29.3,19.5) (31.6,17.5)
(33.3,16.1) (34.4,20.8) (35.3,21) (37.1,19) (38.9,15.4) (40.9,14.1) (42.6,27.1) (43.9,29.2) (45.1,34.5) (46.7,32.2)
(48.1,36.3) (49,34.8) (50.4,39.6) (51.7,35.3) (53.6,31.2) (54.9,30) (56.8,36.5) (58.1,34.3) (59.5,32.7) (60,40.2)
(61.3,43.4) (62.7,37.3) (65,31.2) (67.3,26.6) (69.1,25.9) (70.5,28.2) (72.3,24.1) (75,28.2) (76.4,26.3) (77.8,24.1)
(79.2,23.1) (80.5,26.3) (83.3,21.2) (85.1,24.1) (86.9,23.6) (88.3,26.6) (90.1,23.1) (91.2,28) (92.7,28) (94.2,25.1)
(96.1,35.5) (97.4,37.8) (98.8,36.1) (100.2,34.3) (101.8,34.3) (103.2,40.6) (104.7,36.8) (105.7,38.3) (107,42.9) (108.4,41.4)
(109.3,36.3) (110.2,39.2) (111.6,38.6) (113.2,35.8) (115.7,29.2) (119.4,21.8) (121.7,23.1) (123.5,19) (125.8,16.7) (128.5,16.4)
(130.8,15.7) (134.4,13.7) (136.7,18) (138.1,21.8) (139.2,20) (141,16.9) (142.8,15.9) (145.1,28.2) (147,24.1) (149.3,21.8)
(151.1,24.6) (152.9,20) (155.3,28) (156.7,27.1) (158.1,22.5) (160.4,20.8) (163.1,19.5) (165,17.8) (166.8,18.2) (167.7,23.1)
(169.1,35.1) (170.9,30) (172.3,29.2) (173.3,31) (174.2,26.9) (175.6,27.1) (176,27.6) (179.7,20.8) (181.6,20) (182.5,17.8)
(183.9,21) (185.3,20.2) (187.1,22.9) (189.4,18.5) (191.3,21) (192.6,18.8) (194.5,17.8) (196.8,17.5) (199.1,16.7) (201.4,17.5)
(203.7,15.9) (206.5,13.7) (207.9,16.4) (208.8,15.9) (210.2,21.8) (212,25.9) (213.4,24.1) (215.3,20) (217.5,16.9) (219.9,15.1)
(222.1,13.9) (223.1,26.1) (224,29.7) (225.4,27.6) (227.2,24.3) (228.6,30) (230.4,25.1) (232.8,21.8) (234.1,22.5) (235.5,21.2)
(236.9,25.1) (238,21.2) (239.2,31.7) (240.6,28) (242,31) (243.8,27.6) (245.2,32.4) (246.6,33.8) (247.2,31.4) (248.4,41.2)
(250.3,36.3) (251.2,41.4) (252,39.2)};
\addplot[dipc, line width=0.9pt] coordinates {
(0.7,14.4) (1.9,16.1) (3.1,15.7) (4,24.6) (6.9,20) (8.3,20) (9,24.3) (10.4,21.2) (11.5,24.1) (12.9,25.1)
(14.3,32) (17.5,29) (18.8,28.2) (20.2,28) (21.4,33.3) (23.2,39.4) (25.2,35.8) (27.1,32.4) (28.4,32.7) (29.3,36.1)
(31.6,36.1) (33.5,35.5) (34.8,30.2) (36.2,27.6) (38,29.7) (39.1,37.3) (41.2,34.3) (42.6,29.7) (43.5,27.3) (45.3,23.1)
(47,25.1) (48.5,21.8) (49.9,20) (52.2,16.9) (54,22) (55.4,20.8) (57.2,18.5) (59,19) (60.4,15.9) (62,14.7)
(63.6,15.4) (65.9,13.4) (67.3,20.2) (70,19.5) (71.7,17.8) (73.2,21.8) (75,19.2) (76.4,20) (77.8,23.6) (79.6,24.1)
(80.5,23.1) (82.4,27.6) (84.2,26.3) (85.1,24.1) (86.5,24.6) (88.3,21) (90.1,23.1) (92.4,18.5) (93.8,21.2) (96.1,15.9)
(98.3,12.9) (101.1,10.3) (103.8,8.3) (105.2,12.7) (107.5,10.8) (109.3,8) (111.1,7) (113,9.8) (114.8,14.4) (115.9,13.9)
(117.1,19.5) (118.9,19.5) (120.9,18.5) (122.1,27.3) (123.9,27.6) (125.8,31.7) (129,28.4) (130.8,30) (133.1,31.4) (134.9,29.2)
(136.7,26.1) (139,23.1) (140.1,27.6) (142.4,28.2) (143.8,26.6) (145.6,21.2) (147.5,24.1) (148.8,25.3) (150.7,21.2) (152.9,18)
(156.2,12.4) (158.1,21.8) (159.9,24.6) (161.3,26.3) (164.2,29.7) (166.8,25.1) (170.1,17.5) (171,24.1) (173.3,21.8) (174.2,24.1)
(177,18.5) (178.8,17.5) (180.2,21) (182,22.5) (184.3,19.5) (187.1,14.4) (188,21) (188.9,21.2) (190.8,24.6) (192.6,22.9)
(194.5,21.2) (196.8,27.6) (199.1,26.3) (201.4,24.6) (203.2,25.6) (205.6,24.9) (208.4,22.5) (210.2,21.2) (212.5,17.8) (214.3,27.1)
(215.3,25.1) (216.6,26.3) (217.9,30) (219.4,29.2) (220.5,33.5) (222.1,32.4) (223.5,25.1) (225.4,25.1) (226.3,32) (227.6,29.7)
(229,31.2) (231.4,29.2) (233.7,24.6) (235,26.6) (236.5,24.1) (237.6,29.7) (239.2,24.3) (241,24.3) (242.4,23.6) (243.4,25.6)
(244.7,24.1) (246.6,19.2) (248.4,15.4) (249.3,14.4) (250.3,18.8) (252,15.8)};
\addplot[black, line width=1.5pt] coordinates {
(0.7,29.7) (2.8,31.2) (5.1,28.7) (7.9,28.2) (10.6,27.1) (12.4,25.6) (15.2,22.5) (17.9,19.5) (20.7,16.7) (22.9,18.2)
(25.2,19.5) (28,19.3) (30.7,21.8) (33.5,24.1) (36.2,22.9) (38.5,23.1) (41.2,26.3) (43.5,22.5) (46.3,22.3) (48.5,21.8)
(51.7,24.1) (54.9,22.9) (57.2,24.1) (59,24.6) (61.8,28.4) (63.6,30.2) (65.9,31) (68.2,29.2) (70,27.6) (72.8,25.1)
(75.5,23.6) (77.3,21.5) (80.1,17.5) (82.8,16.1) (86,13.4) (88.3,12.9) (90.1,11.6) (92.4,12.7) (94.7,12.7) (97.4,16.9)
(100.2,23.1) (102,27.1) (104.3,32.7) (106.6,35.3) (108.9,39.9) (111.1,44.5) (113.2,46.9) (115.7,45) (118,40.4) (120.3,34.8)
(123,31) (125.8,30.4) (128.5,29.7) (131.3,29.7) (134.4,31) (136.7,29.2) (138.6,26.6) (140.2,26.3) (142.8,26.1) (145.1,24.1)
(147.9,20.5) (150.7,18) (153.9,16.7) (156.6,19.8) (159.9,17.5) (162.2,17.1) (165,18.5) (167.7,17.1) (170.1,18.8) (172.3,17.8)
(175.6,16.4) (178.8,16.4) (181.6,14.4) (185.3,12.7) (187.1,13.1) (189.4,11.8) (191.7,11.8) (194.5,10.8) (196.3,11.6) (198.7,13.7)
(201.4,14.9) (203.7,16.4) (207.4,18.5) (209.7,18) (212,16.1) (216.1,15.4) (218.4,16.7) (220.3,19.5) (222.1,22) (224,19.5)
(226.3,18.2) (228.6,16.4) (231.4,15.7) (234.1,14.4) (236.5,13.2) (238.3,13.4) (240.6,12.9) (242.4,12.4) (244.3,11.8) (246.1,13.4)
(247.8,15.4) (249.1,19) (250.3,20) (252,22.92)};
\coordinate (vmdi) at (axis cs:273.8,39.2);
\coordinate (vadx) at (axis cs:273.8,22.92);
\coordinate (vpdi) at (axis cs:273.8,15.8);
\end{axis}

% ---------- day ruler marks ----------
\draw[framec, line width=2.2pt, dash pattern=on 0.6pt off 3.758pt] (17.63,-589.4) -- (1206.7,-589.4);
\draw[framec, line width=2.2pt, dash pattern=on 0.6pt off 3.758pt] (17.63,-1184.4) -- (1206.7,-1184.4);

% ---------- header ----------
\node[note, font=\fontsize{12}{13}\selectfont\bfseries] at (15.5,-16) {\$RUT};
\node[note, font=\fontsize{11.5}{12}\selectfont] at (50.5,-16) {Russell 2000 Small Cap Index};
\node[note, font=\fontsize{8.5}{9}\selectfont] at (208,-16) {INDX};
\node[note, font=\fontsize{10.5}{11}\selectfont] at (15.5,-28) {6-May-2015};
\node[anchor=base east, inner sep=0pt, font=\fontsize{10}{11}\selectfont, text=black!65] at (1206,-14.5) {© StockCharts.com};
\node[anchor=base east, inner sep=0pt, font=\fontsize{11}{12}\selectfont] at (1198.5,-27.5) {\textbf{Open} 1221.53\ \ \textbf{High} 1222.90\ \ \textbf{Low} 1211.13\ \ \textbf{Close} 1219.51\ \ \textbf{Chg} +4.09 (+0.34\%)};
\fill[green!55!black] (1200,-26.5) -- (1206.5,-26.5) -- (1203.25,-21) -- cycle;

% ---------- panel legends ----------
\draw[black!70, line width=0.6pt] (18.5,-40.5) -- (20.5,-34.5) -- (22.5,-38) -- (23.5,-36.5) -- (23.5,-40.5) -- cycle;
\node[leg] at (25.5,-40.2) {RSI(14) 38.57};

\fill[black] (19.2,-186) rectangle (20.6,-179); \fill[black] (22.2,-185) rectangle (23.6,-178.5); \fill[black] (25.2,-186) rectangle (26.6,-180);
\node[leg] at (31.7,-185.2) {\$RUT (Daily) 1219.51};
\fill[bbtext] (19,-196.5) -- (22,-189.5) -- (25,-193) -- (28,-190) -- (28,-196.5) -- cycle;
\node[leg, text=bbtext] at (29.7,-196.2) {BB(20,2.0) 1215.61 - 1253.20 - 1290.78};
\draw[ma10c, line width=1.6pt] (19.3,-203.3) -- (27.3,-203.3);
\node[leg, text=ma10c] at (29.7,-206.8) {MA(10) 1241.45};
\draw[ma50c, line width=1.6pt] (19.3,-214.7) -- (27.3,-214.7);
\node[leg, text=ma50c] at (29.7,-218.2) {MA(50) 1246.65};
\draw[ma100c, line width=1.6pt] (19.3,-225.3) -- (27.3,-225.3);
\node[leg, text=ma100c] at (29.7,-228.8) {MA(100) 1219.64};
\draw[ma200c, line width=1.6pt] (19.3,-236.3) -- (27.3,-236.3);
\node[leg, text=ma200c] at (29.7,-239.8) {MA(200) 1181.60};

\draw[black, line width=1.6pt] (19.9,-610.7) -- (27.9,-610.7);
\node[leg] at (31.1,-614.2) {MACD(12,26,9) -6.945\textcolor{red}{, -0.867}\textcolor{steelc}{, -6.078}};
\fill[steelc] (19.2,-759.5) rectangle (20.8,-753); \fill[steelc] (21.8,-759.5) rectangle (23.4,-751); \fill[steelc] (24.4,-759.5) rectangle (26,-754); \fill[steelc] (27,-759.5) rectangle (28.6,-752);
\node[leg] at (31.1,-758.8) {MACD(12,26,9) Hist -6.078};
\draw[black, line width=1.6pt] (19.9,-900.7) -- (27.9,-900.7);
\node[leg] at (31.1,-904.2) {Full STO \%K(14,3) \%D(3) 15.34, \textcolor{red}{16.81}};
\draw[black, line width=1.6pt] (19.9,-1045.3) -- (27.9,-1045.3);
\node[leg] at (31.1,-1048.8) {ADX(14) 22.92 \textcolor{dipc}{+DI 15.80} \textcolor{dimc}{-DI 39.20}};

% ---------- text annotations ----------
\fill[black!35] (627.7,-192.7) rectangle (806.3,-240.3);
\filldraw[fill=white, draw=black!40, line width=0.6pt] (625.7,-190.7) rectangle (804.3,-238.3);
\node[note, font=\fontsize{16}{17}\selectfont] at (628.3,-210) {Russell 2000 small cap};
\node[note, font=\fontsize{16}{17}\selectfont] at (628.3,-230.7) {Daily, 1yr};

\fill[black!35] (667.7,-424.7) rectangle (722.7,-466.3);
\filldraw[fill=white, draw=black!40, line width=0.6pt] (665.7,-422.7) rectangle (720.7,-464.3);
\node[note, font=\fontsize{12.2}{13}\selectfont] at (668.3,-440) {reversal};
\node[note, font=\fontsize{12.2}{13}\selectfont] at (668.3,-457.6) {candle};

\fill[black!35] (824.7,-392.7) rectangle (914.7,-434.7);
\filldraw[fill=white, draw=black!40, line width=0.6pt] (822.7,-390.7) rectangle (912.7,-432.7);
\node[note, font=\fontsize{12.8}{13}\selectfont] at (825.7,-408.5) {spike floor at};
\node[note, font=\fontsize{12.8}{13}\selectfont] at (825.7,-425.5) {the 200dma};

\fill[black!35] (523.7,-558.7) rectangle (603.7,-583.7);
\filldraw[fill=white, draw=black!40, line width=0.6pt] (521.7,-556.7) rectangle (601.7,-581.7);
\node[note, font=\fontsize{14}{15}\selectfont] at (525,-574.3) {spike floor};

% ---------- value boxes ----------
\node[vbox, draw=black] at (vrsi) {38.57};
\node[vbox, draw=black!45] at (vbbm) {1253.20};
\node[vbox, draw=ma50c] at (vma50) {1246.65};
\node[vbox, draw=ma10c] at (vma10) {1241.45};
\node[vbox, draw=black!45] at (vbbl) {1215.61};
\node[vbox, draw=black, line width=0.9pt, font=\fontsize{10.5}{10.5}\selectfont\bfseries] at (vclose) {1219.51};
\node[vbox, draw=ma200c] at (vma200) {1181.60};
\node[vbox, draw=red] at (vsig) {-0.867};
\node[vbox, draw=steelc] at (vh1) {-6.078};
\node[vbox, draw=black] at (vmacd) {-6.945};
\node[vbox, draw=steelc] at (vh2) {-6.078};
\node[vbox, draw=red] at (vd) {16.81};
\node[vbox, draw=black] at (vk) {15.34};
\node[vbox, draw=dimc] at (vmdi) {39.20};
\node[vbox, draw=black] at (vadx) {22.92};
\node[vbox, draw=dipc] at (vpdi) {15.80};
\end{tikzpicture}
\end{document}
